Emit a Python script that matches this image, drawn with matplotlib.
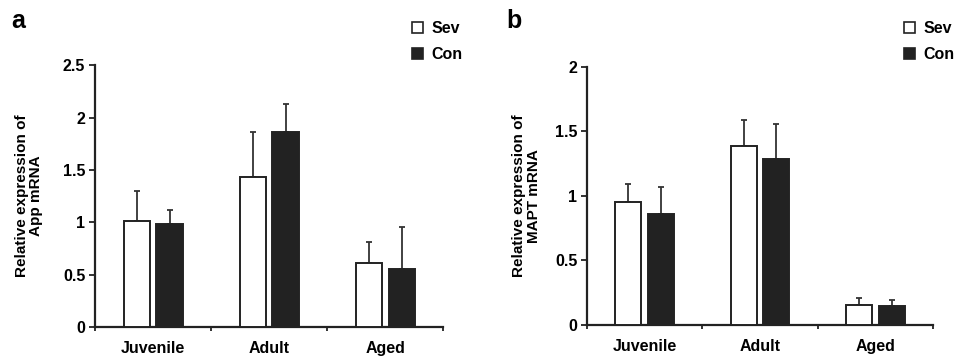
import numpy as np
import matplotlib
matplotlib.use("Agg")
import matplotlib.pyplot as plt
from matplotlib.patches import Patch

plt.rcParams['font.family'] = ['Liberation Sans', 'DejaVu Sans']
plt.rcParams['font.weight'] = 'bold'

# data
groups = ["Juvenile", "Adult", "Aged"]

app_sev = [1.01, 1.43, 0.61]
app_sev_err = [0.29, 0.43, 0.205]
app_con = [0.985, 1.86, 0.556]
app_con_err = [0.135, 0.265, 0.394]

mapt_sev = [0.956, 1.388, 0.153]
mapt_sev_err = [0.139, 0.196, 0.056]
mapt_con = [0.858, 1.287, 0.147]
mapt_con_err = [0.214, 0.273, 0.049]

dark = '#222222'
fig = plt.figure(figsize=(9.55, 3.58), dpi=100)

def panel(rect, sev, sev_err, con, con_err, ymax, yticks, ylabel, lpad, letter, letter_x, leg_x):
    ax = fig.add_axes(rect)
    x = np.arange(len(groups)) + 0.5
    w = 0.225
    off = 0.142
    ax.bar(x - off, sev, w, color='white', edgecolor=dark, linewidth=1.4, zorder=3)
    ax.bar(x + off, con, w, color=dark, edgecolor=dark, linewidth=1.4, zorder=3)
    ax.errorbar(x - off, sev, yerr=[np.zeros(3), sev_err], fmt='none', ecolor='#333333',
                elinewidth=1.3, capsize=2, capthick=1.3, zorder=2)
    ax.errorbar(x + off, con, yerr=[np.zeros(3), con_err], fmt='none', ecolor='#333333',
                elinewidth=1.3, capsize=2, capthick=1.3, zorder=2)
    ax.set_xlim(0, 3)
    ax.set_ylim(0, ymax)
    ax.set_yticks(yticks)
    ax.set_yticklabels([('%g' % t) for t in yticks], fontsize=11.5, fontweight='bold')
    ax.set_xticks([0, 1, 2, 3])
    ax.set_xticklabels([])
    ax.set_xticks(x, minor=True)
    ax.set_xticklabels(groups, minor=True, fontsize=11.5, fontweight='bold')
    ax.tick_params(axis='x', which='minor', length=0, pad=10)
    ax.tick_params(axis='x', which='major', length=3, width=1.3, color=dark)
    ax.tick_params(axis='y', length=4, width=1.3, color=dark, pad=3)
    for s in ['top', 'right']:
        ax.spines[s].set_visible(False)
    for s in ['left', 'bottom']:
        ax.spines[s].set_linewidth(1.6)
        ax.spines[s].set_color(dark)
    ax.set_ylabel(ylabel, fontsize=11, fontweight='bold', labelpad=lpad, linespacing=1.05)
    fig.text(letter_x, 0.975, letter, fontsize=18, fontweight='bold', va='top', ha='left')
    handles = [Patch(facecolor='white', edgecolor=dark, linewidth=1.2, label='Sev'),
               Patch(facecolor=dark, edgecolor=dark, linewidth=1.2, label='Con')]
    fig.legend(handles=handles, loc='upper left', bbox_to_anchor=(leg_x, 0.96),
               frameon=False, handlelength=0.7, handleheight=0.7, handletextpad=0.5,
               labelspacing=0.72, prop={'weight': 'bold', 'size': 11.5}, borderaxespad=0)
    return ax

panel([0.0995, 0.0866, 0.3645, 0.7314], app_sev, app_sev_err, app_con, app_con_err,
      2.5, [0, 0.5, 1, 1.5, 2, 2.5], "Relative expression of\nApp mRNA", 14, 'a', 0.012, 0.425)
panel([0.6147, 0.0922, 0.3623, 0.7215], mapt_sev, mapt_sev_err, mapt_con, mapt_con_err,
      2.0, [0, 0.5, 1, 1.5, 2], "Relative expression of\nMAPT mRNA", 10, 'b', 0.530, 0.94)

fig.savefig("out.png", dpi=100)
